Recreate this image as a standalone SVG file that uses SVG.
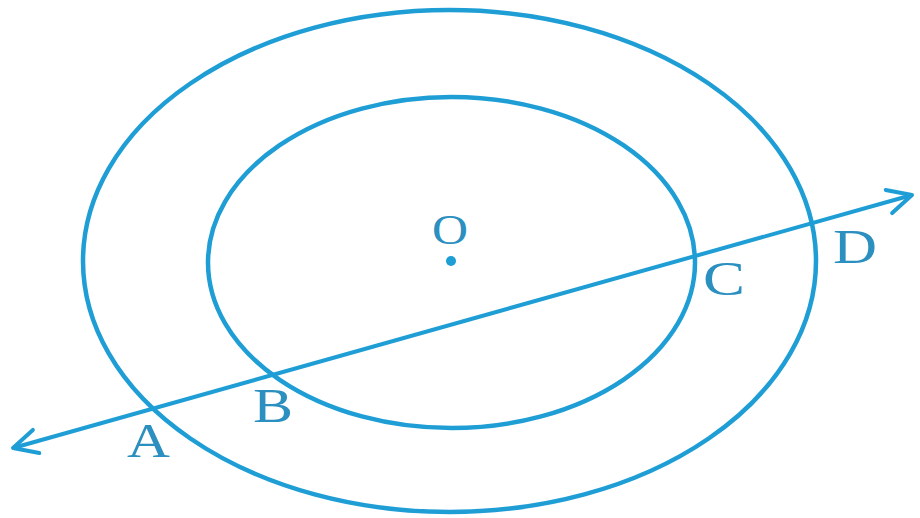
<svg xmlns="http://www.w3.org/2000/svg" width="920" height="518" viewBox="0 0 920 518">
<style>
.c{fill:none;stroke:#1f9ed6;stroke-width:4.5}
.l{fill:none;stroke:#1f9ed6;stroke-width:4}
.t{font-family:"Liberation Serif","Times New Roman",serif;font-size:48px;fill:#2b8fbf}
</style>
<defs>
<marker id="ah" viewBox="-26 -16 30 32" markerWidth="30" markerHeight="32" refX="0" refY="0" orient="auto-start-reverse" markerUnits="userSpaceOnUse">
<path d="M-24,-12 L0,0 L-24,12" fill="none" stroke="#1f9ed6" stroke-width="4" stroke-linecap="round" stroke-linejoin="round"/>
</marker>
</defs>
<rect width="920" height="518" fill="#ffffff"/>
<g id="outer-circle"><ellipse class="c" cx="449.5" cy="261" rx="366.5" ry="251"/></g>
<g id="inner-circle"><ellipse class="c" cx="451.5" cy="262.5" rx="243.5" ry="165.5"/></g>
<g id="connectors"><line class="l" x1="13" y1="448" x2="912" y2="195" marker-start="url(#ah)" marker-end="url(#ah)"/></g>
<g id="O"><circle cx="451" cy="261" r="5" fill="#1f9ed6"/><text class="t" x="432" y="244" textLength="36" lengthAdjust="spacingAndGlyphs" style="font-size:43px">O</text></g>
<g id="A"><text class="t" x="127" y="457" textLength="43" lengthAdjust="spacingAndGlyphs">A</text></g>
<g id="B"><text class="t" x="253" y="422" textLength="40" lengthAdjust="spacingAndGlyphs">B</text></g>
<g id="C"><text class="t" x="703" y="295" textLength="42" lengthAdjust="spacingAndGlyphs">C</text></g>
<g id="D"><text class="t" x="833" y="263" textLength="44" lengthAdjust="spacingAndGlyphs">D</text></g>
</svg>
